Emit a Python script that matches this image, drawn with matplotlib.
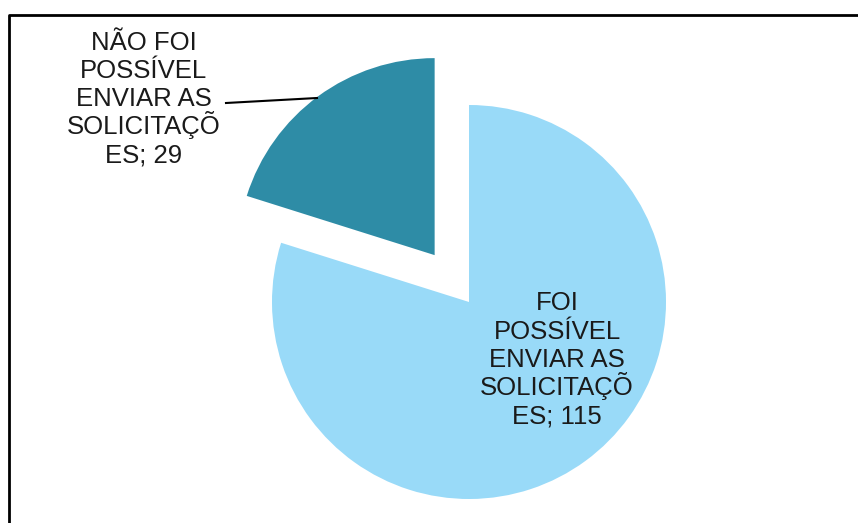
import matplotlib.pyplot as plt

plt.rcParams['font.family'] = ['Liberation Sans', 'DejaVu Sans']

# data
categories = ["FOI POSSÍVEL ENVIAR AS SOLICITAÇÕES",
              "NÃO FOI POSSÍVEL ENVIAR AS SOLICITAÇÕES"]
values = [115, 29]
wrapped = [["FOI", "POSSÍVEL", "ENVIAR AS", "SOLICITAÇÕ", "ES; {}"],
           ["NÃO FOI", "POSSÍVEL", "ENVIAR AS", "SOLICITAÇÕ", "ES; {}"]]
colors = ['#99DAF8', '#2E8CA6']
explode_frac = [0, 0.295]

W, H = 858, 523
fig = plt.figure(figsize=(W / 100, H / 100), dpi=100)
ax = fig.add_axes([0, 0, 1, 1])

cx, cy, r = 469, H - 302, 197
# pie's explode is in data units, so scale by the radius
ax.pie(values, colors=colors, explode=[e * r for e in explode_frac],
       startangle=90, counterclock=False,
       center=(cx, cy), radius=r, wedgeprops=dict(linewidth=0))
ax.set_xlim(0, W)
ax.set_ylim(0, H)
ax.set_aspect('equal')
ax.axis('off')

# data labels, one line at a time so the pitch stays even
label_pos = [(557, 301), (144, 40)]   # x centre, cap centre of first line (image px)
pitch = 28.2
for lines, v, (x, y0) in zip(wrapped, values, label_pos):
    for i, ln in enumerate(lines):
        ax.text(x, H - (y0 + i * pitch + 9.5), ln.format(v), ha='center',
                va='baseline', fontsize=18.5, color='#1a1a1a')

# leader line for the small slice
ax.plot([226, 317], [H - 103, H - 98], color='black', lw=1.5)

# chart frame (clipped at right/bottom like the reference)
ax.plot([8.5, 8.5, W + 5], [-5, H - 14.5, H - 14.5], color='black', lw=2,
        clip_on=False)

fig.savefig('out.png', dpi=100)
